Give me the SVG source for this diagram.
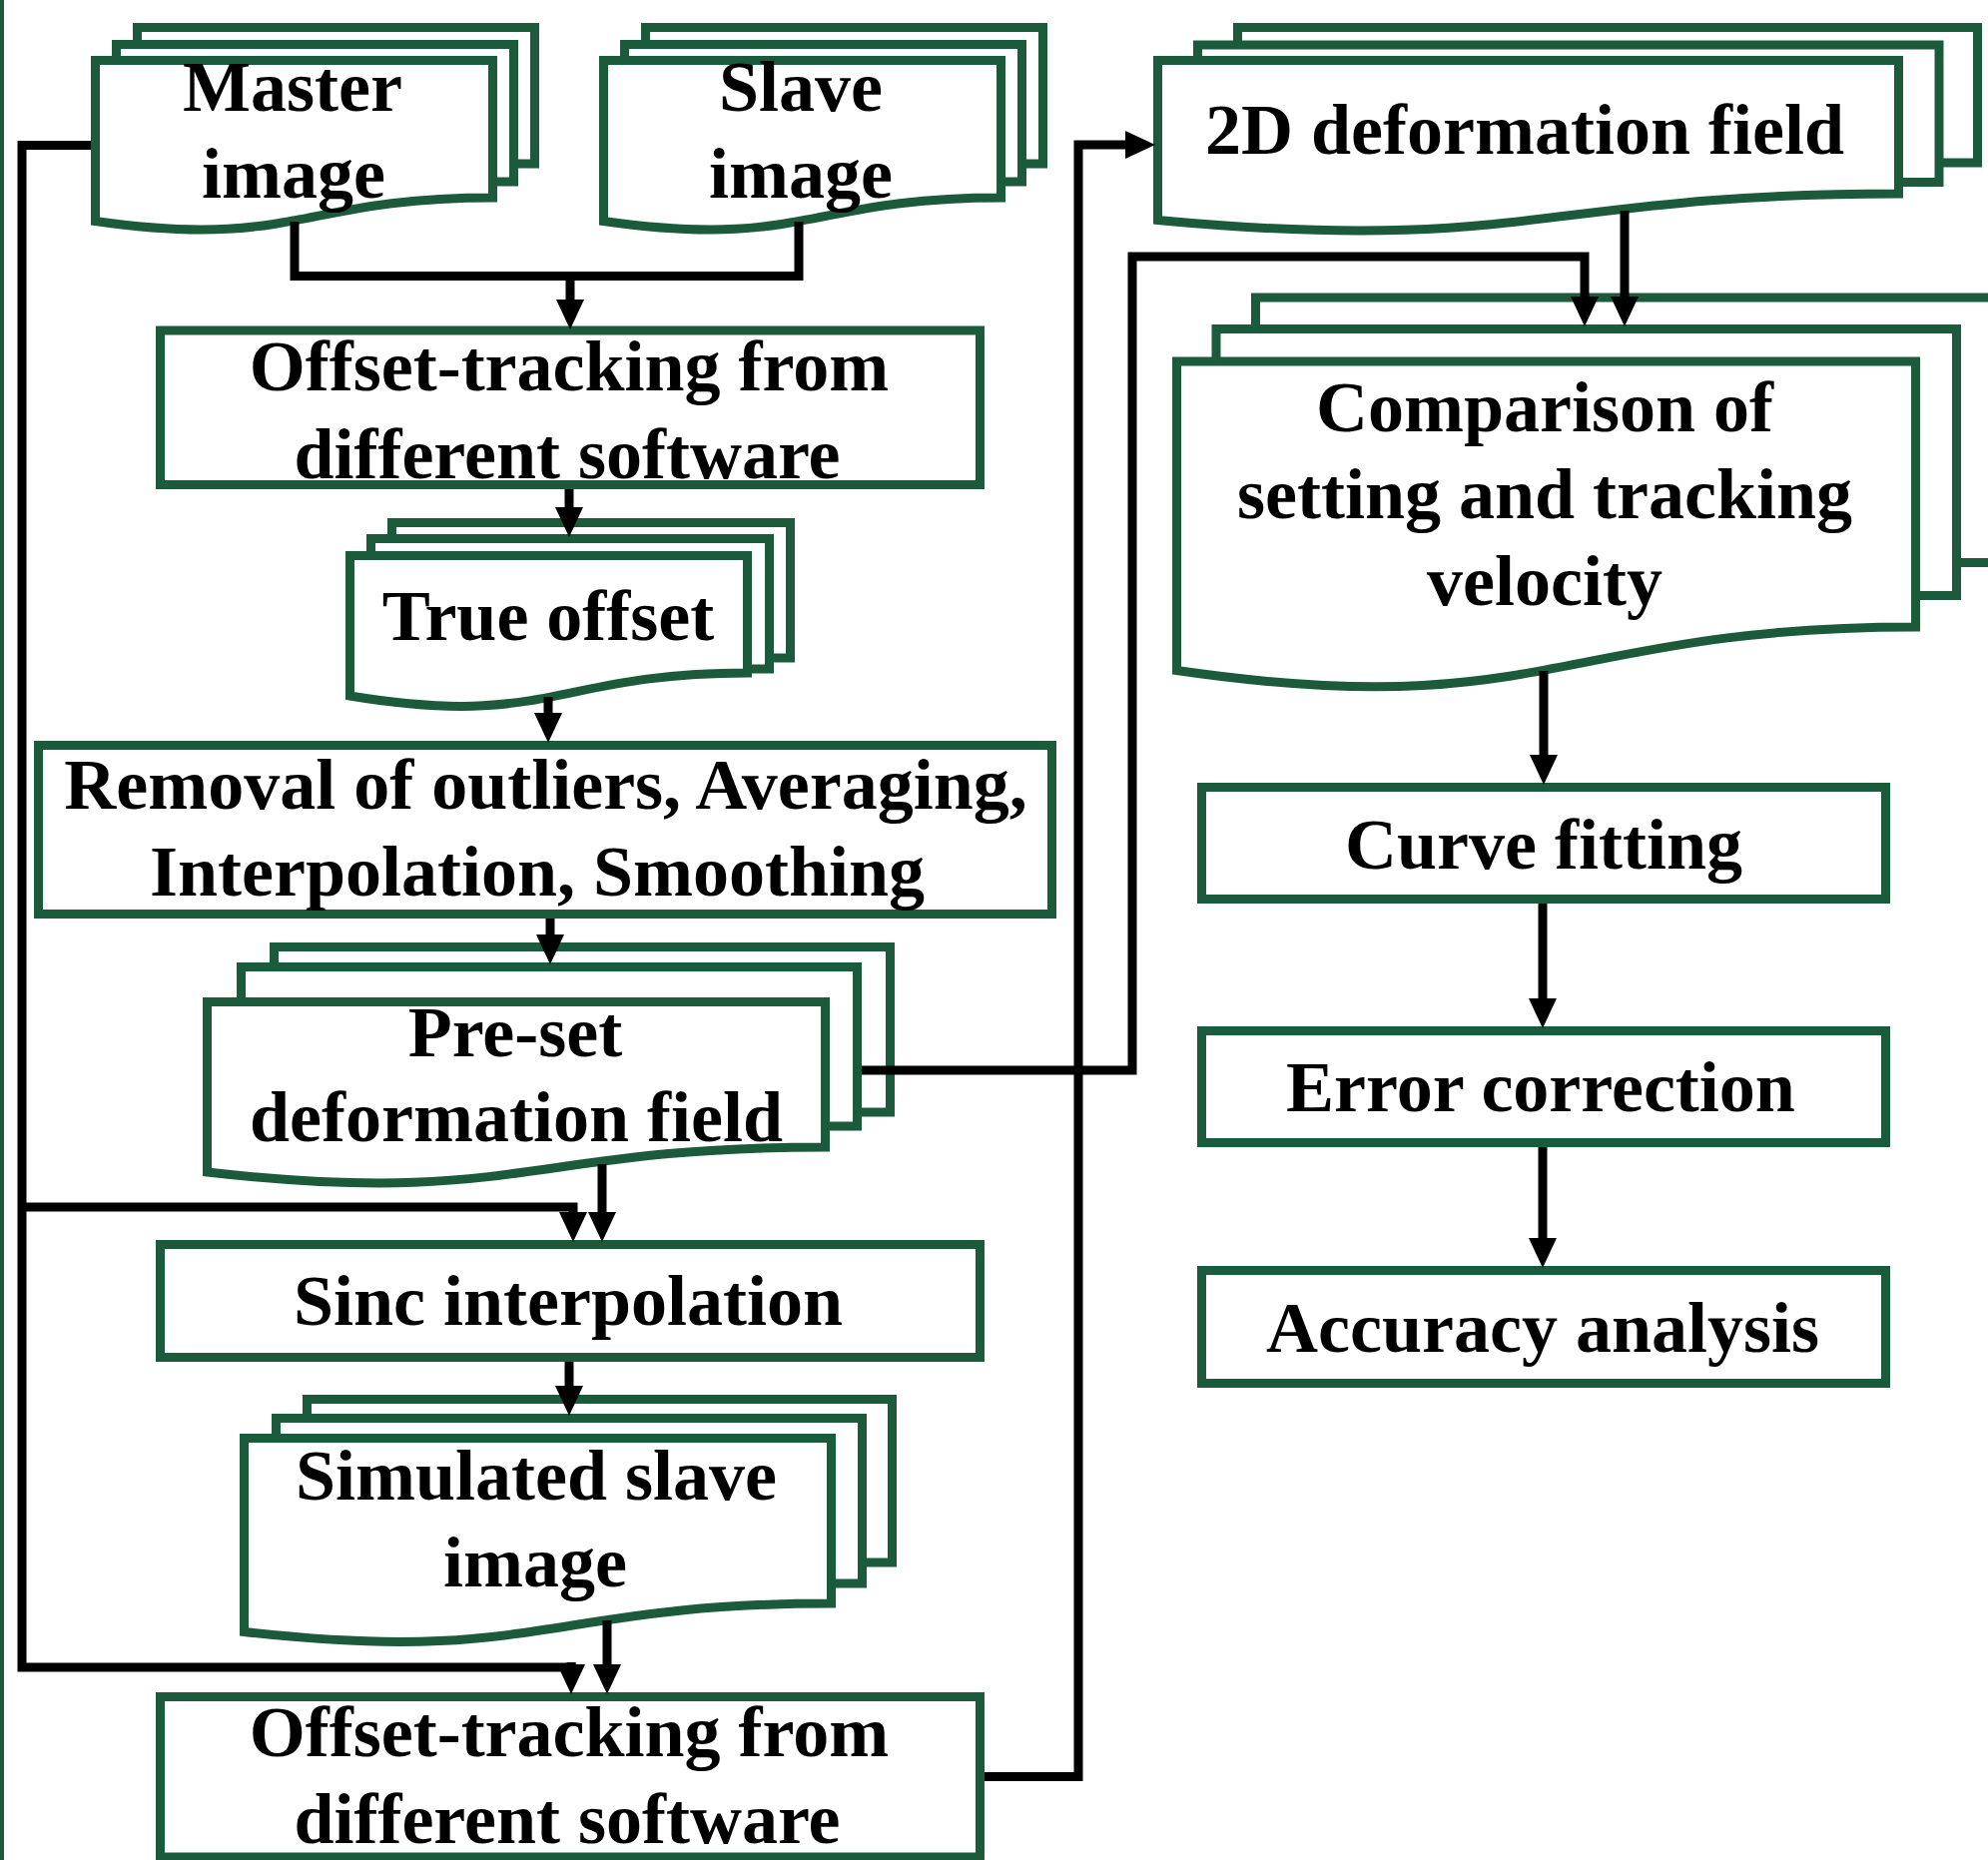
<svg xmlns="http://www.w3.org/2000/svg" width="1991" height="1863" viewBox="0 0 1991 1863">
<style>
.pg{fill:#fff;stroke:#1b5a3a;stroke-width:9;stroke-linejoin:miter}
.t{font-family:"Liberation Serif","Times New Roman",serif;font-weight:bold;font-size:72px;fill:#000;text-anchor:middle}
.c{fill:none;stroke:#000;stroke-width:9;stroke-linejoin:miter;stroke-linecap:butt}
.a{marker-end:url(#ah)}
</style>
<defs>
<marker id="ah" markerUnits="userSpaceOnUse" markerWidth="30" markerHeight="30" refX="2" refY="14" orient="auto" viewBox="0 0 30 28">
<path d="M0,0 L30,14 L0,28 Z" fill="#000"/>
</marker>
</defs>
<rect x="0" y="0" width="1991" height="1863" fill="#fff"/>
<line x1="2" y1="0" x2="2" y2="1863" stroke="#1b5a3a" stroke-width="4"/>

<g id="master">
<rect class="pg" x="137.5" y="27.5" width="398" height="136.5"/>
<rect class="pg" x="116.5" y="44.5" width="398" height="137.5"/>
<path class="pg" d="M95.5,60.5 H493.5 V198 C301.7,198 294.5,250 95.5,221.5 Z"/>
<text class="t" x="293" y="111">Master</text>
<text class="t" x="294" y="198">image</text>
</g>

<g id="slave">
<rect class="pg" x="646.5" y="27.5" width="398" height="136.5"/>
<rect class="pg" x="625.5" y="44.5" width="398" height="137.5"/>
<path class="pg" d="M604.5,60.5 H1002.5 V198 C810.7,198 803.5,250 604.5,221.5 Z"/>
<text class="t" x="802" y="111">Slave</text>
<text class="t" x="802" y="198">image</text>
</g>

<g id="offset1">
<rect class="pg" x="160.5" y="331" width="821" height="154.5"/>
<text class="t" x="570" y="391">Offset-tracking from</text>
<text class="t" x="568" y="478.5">different software</text>
</g>

<g id="trueoffset">
<rect class="pg" x="392.5" y="523.5" width="399" height="135.5"/>
<rect class="pg" x="371.5" y="539.5" width="399" height="130.5"/>
<path class="pg" d="M350.5,556.5 H748.5 V674 C556.7,674 549.5,730 350.5,697 Z"/>
<text class="t" x="549" y="641">True offset</text>
</g>

<g id="removal">
<rect class="pg" x="38.5" y="746.5" width="1015" height="169"/>
<text class="t" x="546.5" y="810">Removal of outliers, Averaging,</text>
<text class="t" x="538" y="897">Interpolation, Smoothing</text>
</g>

<g id="preset">
<rect class="pg" x="274.5" y="948.5" width="617" height="165.5"/>
<rect class="pg" x="241.5" y="968.5" width="617" height="159.5"/>
<path class="pg" d="M207.5,1003.5 H826.5 V1149 C528.1,1149 517,1209 207.5,1174 Z"/>
<text class="t" x="516" y="1058">Pre-set</text>
<text class="t" x="517" y="1143">deformation field</text>
</g>

<g id="sinc">
<rect class="pg" x="160.5" y="1246.5" width="821" height="113"/>
<text class="t" x="569" y="1327">Sinc interpolation</text>
</g>

<g id="simulated">
<rect class="pg" x="307.5" y="1401.5" width="586" height="163.5"/>
<rect class="pg" x="276.5" y="1420.5" width="587" height="165.5"/>
<path class="pg" d="M244.5,1440.5 H832.5 V1606 C549.1,1606 538.5,1668 244.5,1634.5 Z"/>
<text class="t" x="537" y="1502">Simulated slave</text>
<text class="t" x="536" y="1589">image</text>
</g>

<g id="offset2">
<rect class="pg" x="160.5" y="1699.5" width="821" height="160.5"/>
<text class="t" x="570" y="1759">Offset-tracking from</text>
<text class="t" x="568" y="1846">different software</text>
</g>

<g id="deform2d">
<rect class="pg" x="1239.5" y="27.5" width="741" height="135.5"/>
<rect class="pg" x="1199.5" y="45" width="742.5" height="137.5"/>
<path class="pg" d="M1159.5,60.5 H1901.5 V194 C1543.9,194 1530.5,255 1159.5,220.5 Z"/>
<text class="t" x="1527" y="154">2D deformation field</text>
</g>

<g id="comparison">
<rect class="pg" x="1257.5" y="298" width="760" height="265.5"/>
<rect class="pg" x="1218" y="329.5" width="741.5" height="267"/>
<path class="pg" d="M1178.5,362 H1918.5 V628 C1561.8,628 1548.5,725.5 1178.5,671.5 Z"/>
<text class="t" x="1547" y="432">Comparison of</text>
<text class="t" x="1547" y="519">setting and tracking</text>
<text class="t" x="1547" y="606">velocity</text>
</g>

<g id="curve">
<rect class="pg" x="1203.5" y="788.5" width="685" height="112"/>
<text class="t" x="1546" y="870">Curve fitting</text>
</g>

<g id="error">
<rect class="pg" x="1203.5" y="1032.5" width="685" height="112"/>
<text class="t" x="1543" y="1113">Error correction</text>
</g>

<g id="accuracy">
<rect class="pg" x="1203.5" y="1272.5" width="685" height="113"/>
<text class="t" x="1545" y="1354">Accuracy analysis</text>
</g>

<g id="connectors">
<path class="c" d="M295,222 V276.5 H800 V222"/>
<path class="c a" d="M571,276.5 V302"/>
<path class="c a" d="M570,490 V510"/>
<path class="c a" d="M549,698 V716"/>
<path class="c a" d="M551,920 V938"/>
<path class="c" d="M91,145.5 H22 V1670 H576.5"/>
<path class="c a" d="M572,1665 V1669"/>
<path class="c a" d="M22,1209 H574 V1216"/>
<path class="c a" d="M603,1166 V1216"/>
<path class="c a" d="M570,1364 V1390"/>
<path class="c a" d="M608,1623 V1669"/>
<path class="c a" d="M986,1779.5 H1080 V145 H1129"/>
<path class="c a" d="M863,1072 H1134 V257 H1587 V299"/>
<path class="c a" d="M1627,211 V299"/>
<path class="c a" d="M1546,672 V758"/>
<path class="c a" d="M1545,905 V1002"/>
<path class="c a" d="M1545,1149 V1242"/>
</g>
</svg>
